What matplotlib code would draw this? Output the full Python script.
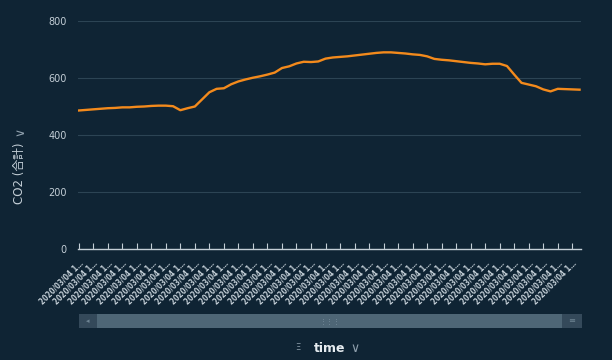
import matplotlib
matplotlib.use("Agg")
import matplotlib.pyplot as plt
from matplotlib.patches import Rectangle
import numpy as np

plt.rcParams["font.family"] = ["DejaVu Sans", "Noto Sans CJK JP"]

BG = "#0f2434"
LINE = "#f38a1c"
TXT = "#c3ced6"
GRID = "#2c4454"

# CO2 readings, two samples per category tick
co2 = [486, 488, 490, 492, 494, 495, 497, 497, 499, 500,
       502, 503, 503, 501, 487, 494, 500, 525, 550, 562,
       564, 578, 588, 595, 601, 606, 612, 619, 635, 641,
       651, 657, 656, 658, 668, 672, 674, 676, 679, 682,
       685, 688, 690, 690, 688, 686, 683, 681, 676, 667,
       664, 662, 659, 656, 653, 651, 648, 650, 650, 642,
       612, 583, 577, 571, 560, 553, 562, 561, 560, 559]
n_cats = 35
cat_labels = ["2020/03/04 1…"] * n_cats
y_ticks = [0, 200, 400, 600, 800]

fig = plt.figure(figsize=(6.12, 3.6), dpi=100, facecolor=BG)
ax = fig.add_axes([78 / 612, 111 / 360, 503 / 612, 228 / 360], facecolor=BG)

x = np.arange(len(co2)) / 2
ax.plot(x, co2, color=LINE, lw=1.7, solid_joinstyle="round")

ax.set_ylim(0, 800)
ax.set_xlim(-0.05, 34.6)
ax.set_yticks(y_ticks)
ax.set_yticklabels([str(v) for v in y_ticks], color=TXT, fontsize=7)
ax.yaxis.grid(True, color=GRID, lw=0.8)
ax.set_axisbelow(True)
ax.tick_params(axis="y", length=0, pad=8)

ax.set_xticks(range(n_cats))
ax.set_xticklabels(cat_labels, rotation=45, ha="right", rotation_mode="anchor",
                   color=TXT, fontsize=5.6, fontweight="bold",
                   fontstretch="condensed")
ax.tick_params(axis="x", direction="in", length=4, color=TXT, width=0.8, pad=7)

for s in ["top", "right", "left"]:
    ax.spines[s].set_visible(False)
ax.spines["bottom"].set_color(TXT)
ax.spines["bottom"].set_linewidth(1.0)

# y axis title with chevron
fig.text(20 / 612, 1 - 173 / 360, "CO2 (合計)", rotation=90, color=TXT,
         fontsize=8.5, ha="center", va="center")
fig.text(20 / 612, 1 - 131 / 360, "∨", rotation=90, color="#8fa0ad",
         fontsize=9, ha="center", va="center")

# scrollbar
def frect(x0, y0, w, h, color):
    fig.patches.append(Rectangle((x0 / 612, 1 - (y0 + h) / 360), w / 612, h / 360,
                                 transform=fig.transFigure, color=color, lw=0))

frect(79, 314, 503, 14, "#2a4252")
frect(97, 314, 465, 14, "#4e6676")
frect(79, 314, 18, 14, "#34495a")
frect(562, 314, 20, 14, "#34495a")
fig.text(88 / 612, 1 - 321 / 360, "◂", color="#6f8594", fontsize=5,
         ha="center", va="center")
fig.text(572 / 612, 1 - 321 / 360, "≡", color="#6f8594", fontsize=6,
         ha="center", va="center")
fig.text(330 / 612, 1 - 321 / 360, "⋮⋮⋮", color="#7d93a2", fontsize=5,
         ha="center", va="center")

# x axis title
fig.text(298 / 612, 1 - 348 / 360, "Ξ", color="#8fa0ad", fontsize=6,
         ha="center", va="center")
fig.text(330 / 612, 1 - 348 / 360, "time", color="#e6ecf0", fontsize=9,
         fontweight="bold", ha="center", va="center")
fig.text(355 / 612, 1 - 348 / 360, "∨", color="#8fa0ad", fontsize=9,
         ha="center", va="center")

fig.savefig("out.png", dpi=100, facecolor=BG)
